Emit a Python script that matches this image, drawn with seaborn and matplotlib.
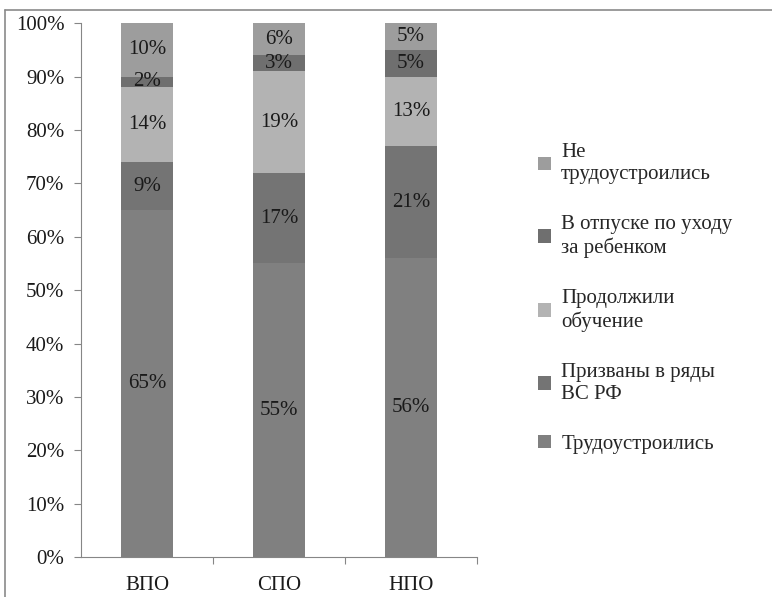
import matplotlib
matplotlib.use("Agg")
import matplotlib.pyplot as plt
import seaborn as sns
import pandas as pd
from matplotlib.patches import Patch
from matplotlib.lines import Line2D

# data (percent)
categories = ["ВПО", "СПО", "НПО"]
series_names = ["Трудоустроились", "Призваны в ряды\nВС РФ", "Продолжили\nобучение",
                "В отпуске по уходу\nза ребенком", "Не\nтрудоустроились"]
employed = [65, 55, 56]
army = [9, 17, 21]
study = [14, 19, 13]
leave = [2, 3, 5]
unemployed = [10, 6, 5]
colors = ["#808080", "#747474", "#b3b3b3", "#6f6f6f", "#9d9d9d"]

sns.set_theme(style="white")
plt.rcParams["font.family"] = ["Liberation Serif", "DejaVu Serif"]

fig = plt.figure(figsize=(7.72, 5.97), dpi=100)
ax = fig.add_axes([0.105, 0.067, 0.513, 0.894])

values = [employed, army, study, leave, unemployed]
bottom = [0, 0, 0]
for name, vals, col in zip(series_names, values, colors):
    df = pd.DataFrame({"cat": categories, "val": vals})
    sns.barplot(data=df, x="cat", y="val", color=col, width=0.40,
                bottom=bottom, ax=ax, linewidth=0, saturation=1)
    for i, v in enumerate(vals):
        ax.text(i, bottom[i] + v / 2, f"{v}%", ha="center", va="center",
                fontsize=15, color="#1a1a1a")
    bottom = [b + v for b, v in zip(bottom, vals)]

ax.set_xlim(-0.5, 2.5)
ax.set_ylim(0, 100)
ax.set_yticks(range(0, 101, 10))
ax.set_yticklabels([f"{t}%" for t in range(0, 101, 10)], fontsize=15, color="#1a1a1a")
ax.set_xticks([0, 1, 2])
ax.set_xticklabels(categories, fontsize=15, color="#1a1a1a")
ax.set_xticks([0.5, 1.5, 2.5], minor=True)
ax.tick_params(axis="x", which="major", length=0, pad=14)
ax.tick_params(axis="x", which="minor", length=5, width=0.8, color="#868686", bottom=True)
ax.tick_params(axis="y", length=5, width=0.8, color="#868686", left=True, pad=7)
ax.set_xlabel("")
ax.set_ylabel("")
for s in ["top", "right"]:
    ax.spines[s].set_visible(False)
for s in ["left", "bottom"]:
    ax.spines[s].set_color("#868686")
    ax.spines[s].set_linewidth(0.8)

# legend, top entry first
handles = [Patch(facecolor=c, edgecolor="none") for c in colors][::-1]
labels = series_names[::-1]
fig.legend(handles, labels, loc="center left", bbox_to_anchor=(0.673, 0.5),
           frameon=False, fontsize=15, handlelength=0.6, handleheight=0.6,
           handletextpad=0.5, labelspacing=1.5)

# chart area border (top and left visible)
fig.add_artist(Line2D([0.006, 1.0], [0.983, 0.983], transform=fig.transFigure,
                      color="#8a8a8a", linewidth=1.2))
fig.add_artist(Line2D([0.006, 0.006], [0.0, 0.983], transform=fig.transFigure,
                      color="#8a8a8a", linewidth=1.2))

fig.savefig("out.png", dpi=100)
